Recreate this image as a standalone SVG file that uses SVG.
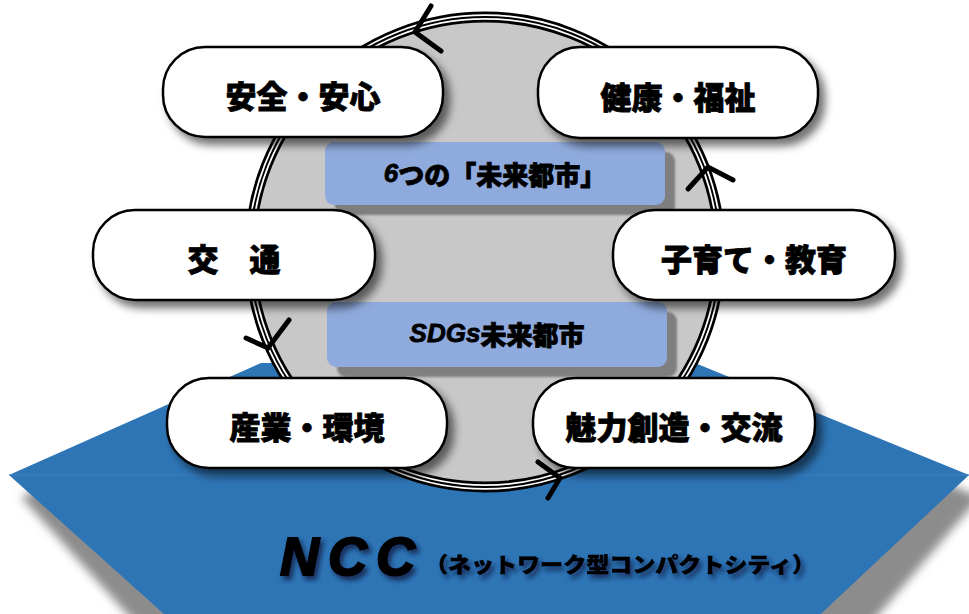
<svg xmlns="http://www.w3.org/2000/svg" width="969" height="614" viewBox="0 0 969 614">
<defs>
<filter id="hexShadow" x="-10%" y="-10%" width="130%" height="140%">
<feGaussianBlur stdDeviation="5"/>
</filter>
<filter id="nodeShadow" x="-20%" y="-30%" width="150%" height="180%">
<feDropShadow dx="6" dy="7" stdDeviation="4" flood-color="#000" flood-opacity="0.55"/>
</filter>
<filter id="textShadow" x="-10%" y="-20%" width="130%" height="160%">
<feDropShadow dx="3" dy="4" stdDeviation="2.5" flood-color="#0a1e3c" flood-opacity="0.8"/>
</filter>
<filter id="boxShadowBlur" x="-10%" y="-20%" width="120%" height="140%">
<feGaussianBlur stdDeviation="1"/>
</filter>
<style>
.node rect{fill:#fff;stroke:#000;stroke-width:2.5}
.node text{font-family:"Noto Sans CJK JP","Noto Sans CJK SC",sans-serif;font-weight:900;font-size:31px;fill:#000;stroke:#000;stroke-width:0.8;text-anchor:middle;dominant-baseline:central}
.box rect.face{fill:#8FAADC}
.box rect.sh{fill:#7F7F7F}
.box text{font-family:"Noto Sans CJK JP","Noto Sans CJK SC",sans-serif;font-weight:900;font-size:26px;fill:#000;stroke:#000;stroke-width:0.8;text-anchor:middle;dominant-baseline:central}
.arrow{fill:none;stroke:#000;stroke-width:5;stroke-linecap:round;stroke-linejoin:miter}
</style>
</defs>

<g id="base">
<polygon points="21,497 273,385 707,385 980,497 805,700 205,700" fill="#8C8C8C" filter="url(#hexShadow)"/>
<polygon points="9,475 261,363 695,363 969,475 793,640 193,640" fill="#2E75B6"/>
<line x1="9" y1="475" x2="969" y2="475" stroke="#3C82C2" stroke-width="1"/>
</g>

<g id="ring">
<circle cx="485" cy="252" r="235" fill="#C8C8C8"/>
<circle cx="485" cy="252" r="235" fill="none" stroke="#000" stroke-width="11"/>
<circle cx="485" cy="252" r="235" fill="none" stroke="#fff" stroke-width="5.5"/>
<circle cx="485" cy="252" r="235" fill="none" stroke="#000" stroke-width="2"/>
</g>

<g id="box-6">
<g class="box">
<rect class="sh" x="335" y="152" width="340" height="63" rx="9" filter="url(#boxShadowBlur)"/>
<rect class="face" x="325" y="142" width="340" height="63" rx="9"/>
<text x="495" y="173"><tspan font-style="italic" font-family="Liberation Sans, sans-serif" font-weight="700">6</tspan>つの「未来都市」</text>
</g>
</g>

<g id="box-sdgs">
<g class="box">
<rect class="sh" x="337" y="312" width="340" height="65" rx="9" filter="url(#boxShadowBlur)"/>
<rect class="face" x="327" y="302" width="340" height="65" rx="9"/>
<text x="497" y="333"><tspan font-style="italic" font-family="Liberation Sans, sans-serif" font-weight="700">SDGs</tspan>未来都市</text>
</g>
</g>

<g id="node-anzen" class="node">
<rect x="163" y="47" width="280" height="90" rx="42" filter="url(#nodeShadow)"/>
<text x="303" y="94">安全・安心</text>
</g>
<g id="node-kenko" class="node">
<rect x="538" y="47" width="280" height="91" rx="42" filter="url(#nodeShadow)"/>
<text x="678" y="95">健康・福祉</text>
</g>
<g id="node-kotsu" class="node">
<rect x="93" y="210" width="282" height="90" rx="42" filter="url(#nodeShadow)"/>
<text x="234" y="257">交　通</text>
</g>
<g id="node-kosodate" class="node">
<rect x="613" y="210" width="282" height="90" rx="42" filter="url(#nodeShadow)"/>
<text x="754" y="257">子育て・教育</text>
</g>
<g id="node-sangyo" class="node">
<rect x="167" y="378" width="280" height="90" rx="42" filter="url(#nodeShadow)"/>
<text x="307" y="425">産業・環境</text>
</g>
<g id="node-miryoku" class="node">
<rect x="533" y="378" width="282" height="90" rx="42" filter="url(#nodeShadow)"/>
<text x="674" y="425">魅力創造・交流</text>
</g>

<g id="connectors">
<path class="arrow" d="M431,6 L415,32 L441,51"/>
<path class="arrow" d="M688,189 L708,167 L733,180"/>
<path class="arrow" d="M246,338 L268,348 L289,320"/>
<path class="arrow" d="M538,462 L560,478 L548,498"/>
</g>

<g id="title">
<text x="280" y="575" font-family="Liberation Sans, sans-serif" font-weight="700" font-style="italic" font-size="54" letter-spacing="9" fill="#000" stroke="#000" stroke-width="2" filter="url(#textShadow)">NCC</text>
<text x="425" y="572" font-family="Noto Sans CJK JP, Noto Sans CJK SC, sans-serif" font-weight="900" font-size="21" textLength="390" lengthAdjust="spacingAndGlyphs" fill="#000" stroke="#000" stroke-width="0.5" filter="url(#textShadow)">（ネットワーク型コンパクトシティ）</text>
</g>
</svg>
